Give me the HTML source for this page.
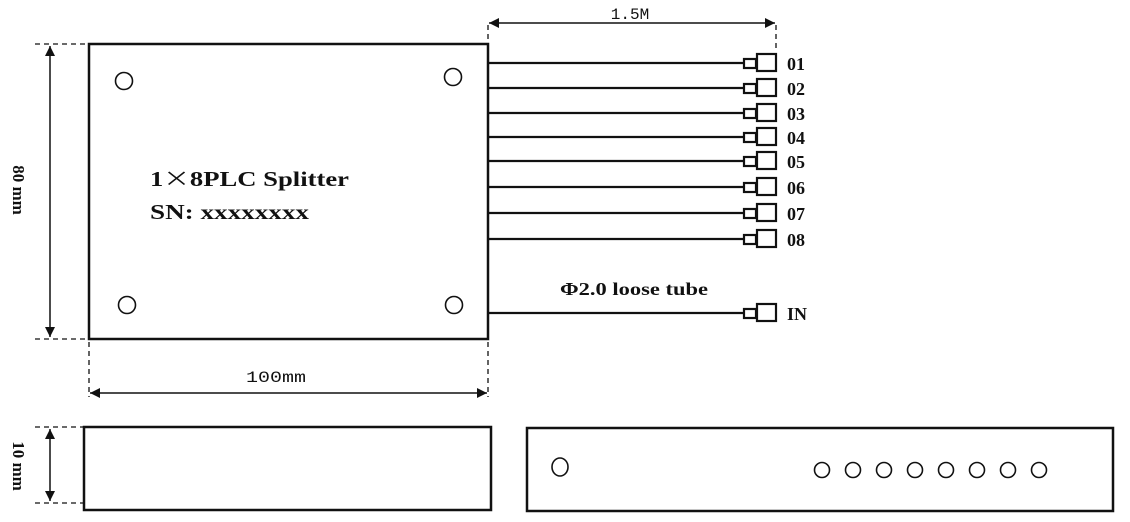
<!DOCTYPE html>
<html><head><meta charset="utf-8"><style>
html,body{margin:0;padding:0;background:#fff;}
svg{display:block;}
.b{font-family:"Liberation Serif",serif;font-weight:bold;fill:#111;}
.m{font-family:"Liberation Mono","DejaVu Sans Mono",monospace;fill:#111;}
</style></head><body>
<svg width="1130" height="522" viewBox="0 0 1130 522" xmlns="http://www.w3.org/2000/svg">
<defs>
<marker id="a" viewBox="0 0 10 10" refX="10" refY="5" markerWidth="12" markerHeight="10" markerUnits="userSpaceOnUse" orient="auto-start-reverse">
<path d="M0,0 L10,5 L0,10 z" fill="#111"/></marker>
</defs>
<g fill="none" stroke="#111">
<rect x="89" y="44" width="399" height="295" stroke-width="2.5"/>
<circle cx="124" cy="81" r="8.5" stroke-width="1.6"/>
<circle cx="453" cy="77" r="8.5" stroke-width="1.6"/>
<circle cx="127" cy="305" r="8.5" stroke-width="1.6"/>
<circle cx="454" cy="305" r="8.5" stroke-width="1.6"/>
<g stroke-dasharray="5,4" stroke-width="1.3">
<line x1="35" y1="44" x2="89" y2="44"/><line x1="35" y1="339" x2="89" y2="339"/>
<line x1="89" y1="342" x2="89" y2="397"/><line x1="488" y1="342" x2="488" y2="397"/>
<line x1="488" y1="25" x2="488" y2="44"/><line x1="776" y1="25" x2="776" y2="50"/>
<line x1="35" y1="427" x2="84" y2="427"/><line x1="35" y1="503" x2="84" y2="503"/>
</g>
<g stroke-width="1.5">
<line x1="50" y1="46" x2="50" y2="337" marker-start="url(#a)" marker-end="url(#a)"/>
<line x1="90" y1="393" x2="487" y2="393" marker-start="url(#a)" marker-end="url(#a)"/>
<line x1="489" y1="23" x2="775" y2="23" marker-start="url(#a)" marker-end="url(#a)"/>
<line x1="50" y1="429" x2="50" y2="501" marker-start="url(#a)" marker-end="url(#a)"/>
</g>
<g stroke-width="2.2">
<line x1="488" y1="63" x2="743" y2="63"/><line x1="488" y1="88" x2="743" y2="88"/>
<line x1="488" y1="113" x2="743" y2="113"/><line x1="488" y1="137" x2="743" y2="137"/>
<line x1="488" y1="161" x2="743" y2="161"/><line x1="488" y1="187" x2="743" y2="187"/>
<line x1="488" y1="213" x2="743" y2="213"/><line x1="488" y1="239" x2="743" y2="239"/>
<line x1="488" y1="313" x2="743" y2="313"/>
</g>
<g stroke-width="2.2">
<rect x="744" y="59" width="12" height="9"/><rect x="757" y="54" width="19" height="17"/>
<rect x="744" y="84" width="12" height="9"/><rect x="757" y="79" width="19" height="17"/>
<rect x="744" y="109" width="12" height="9"/><rect x="757" y="104" width="19" height="17"/>
<rect x="744" y="133" width="12" height="9"/><rect x="757" y="128" width="19" height="17"/>
<rect x="744" y="157" width="12" height="9"/><rect x="757" y="152" width="19" height="17"/>
<rect x="744" y="183" width="12" height="9"/><rect x="757" y="178" width="19" height="17"/>
<rect x="744" y="209" width="12" height="9"/><rect x="757" y="204" width="19" height="17"/>
<rect x="744" y="235" width="12" height="9"/><rect x="757" y="230" width="19" height="17"/>
<rect x="744" y="309" width="12" height="9"/><rect x="757" y="304" width="19" height="17"/>
</g>
<rect x="84" y="427" width="407" height="83" stroke-width="2.5"/>
<rect x="527" y="428" width="586" height="83" stroke-width="2.5"/>
<ellipse cx="560" cy="467" rx="8" ry="9" stroke-width="1.6"/>
<g stroke-width="1.6">
<circle cx="822" cy="470" r="7.5"/><circle cx="853" cy="470" r="7.5"/><circle cx="884" cy="470" r="7.5"/>
<circle cx="915" cy="470" r="7.5"/><circle cx="946" cy="470" r="7.5"/><circle cx="977" cy="470" r="7.5"/>
<circle cx="1008" cy="470" r="7.5"/><circle cx="1039" cy="470" r="7.5"/>
</g>
</g>
<text class="b" x="150" y="186" font-size="21" textLength="199" lengthAdjust="spacingAndGlyphs">1<tspan font-family="'Noto Sans CJK SC',sans-serif" font-weight="normal">×</tspan>8PLC Splitter</text>
<text class="b" x="150" y="219" font-size="21" textLength="159" lengthAdjust="spacingAndGlyphs">SN: xxxxxxxx</text>
<text class="b" x="560" y="295" font-size="18" textLength="148" lengthAdjust="spacingAndGlyphs">Φ2.0 loose tube</text>
<g class="b" font-size="18">
<text x="787" y="70">01</text><text x="787" y="95">02</text><text x="787" y="120">03</text>
<text x="787" y="144">04</text><text x="787" y="168">05</text><text x="787" y="194">06</text>
<text x="787" y="220">07</text><text x="787" y="246">08</text><text x="787" y="320">IN</text>
</g>
<text class="m" x="630" y="19" font-size="16" text-anchor="middle">1.5M</text>
<text class="m" x="276" y="382" font-size="16" text-anchor="middle" textLength="60" lengthAdjust="spacingAndGlyphs">100mm</text>
<text class="b" font-size="17" text-anchor="middle" transform="translate(13,190) rotate(90)">80 mm</text>
<text class="b" font-size="17" text-anchor="middle" transform="translate(13,466) rotate(90)">10 mm</text>
</svg>
</body></html>
